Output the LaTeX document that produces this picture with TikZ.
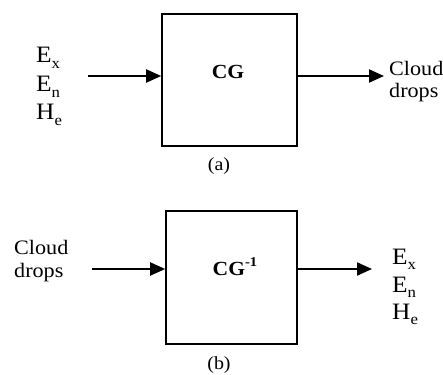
\documentclass[tikz,border=0pt]{standalone}
\usepackage{fontspec}
\setmainfont[FakeStretch=1.08]{Liberation Serif}
\usetikzlibrary{arrows.meta}
\newcommand{\mysub}[1]{\raisebox{-0.22em}{\fontsize{15.5}{15.5}\selectfont #1}}
\tikzset{
  blk/.style={draw, line width=1.6pt, inner sep=0pt},
  arr/.style={line width=2pt, -{Triangle[length=15pt,width=13pt]}},
  var/.style={anchor=base west, inner sep=0pt, font=\fontsize{23.5}{23.5}\selectfont},
  lbl/.style={anchor=base west, inner sep=0pt, font=\fontsize{20.5}{20.5}\selectfont},
  ttl/.style={anchor=base, inner sep=0pt, font=\fontsize{20}{20}\selectfont\bfseries},
  captxt/.style={anchor=base, inner sep=0pt, font=\fontsize{18.5}{18.5}\selectfont}
}
\begin{document}
\begin{tikzpicture}[x=1pt, y=-1pt]
\useasboundingbox (0,0) rectangle (443,374);
% ---- (a) ----
\node[blk, minimum width=135pt, minimum height=132pt] (boxa) at (229.5,80) {};
\node[ttl] (cga) at (228,79) {CG};
\coordinate (ina) at (88,76);
\coordinate (outa) at (384,76);
\draw[arr] (ina) -- (ina -| boxa.west);
\draw[arr] (outa -| boxa.east) -- (outa);
\node[var] (exa) at (36,63) {E\mysub{x}};
\node[var] (ena) at (36,92) {E\mysub{n}};
\node[var] (hea) at (36,120) {H\mysub{e}};
\node[lbl] (clouda) at (389,76) {Cloud};
\node[lbl] (dropsa) at (389,98) {drops};
\node[captxt] (capa) at (219,170) {(a)};
% ---- (b) ----
\node[blk, minimum width=131pt, minimum height=133pt] (boxb) at (231.5,277.5) {};
\node[ttl, anchor=base west] (cgb) at (212.5,275) {CG\raisebox{0.42em}{\fontsize{13.5}{13.5}\selectfont -1}};
\coordinate (inb) at (92,269);
\coordinate (outb) at (372,269);
\draw[arr] (inb) -- (inb -| boxb.west);
\draw[arr] (outb -| boxb.east) -- (outb);
\node[lbl] (cloudb) at (14,254) {Cloud};
\node[lbl] (dropsb) at (14,277) {drops};
\node[var] (exb) at (392,264) {E\mysub{x}};
\node[var] (enb) at (392,292) {E\mysub{n}};
\node[var] (heb) at (392,319) {H\mysub{e}};
\node[captxt] (capb) at (219,369) {(b)};
\end{tikzpicture}
\end{document}
